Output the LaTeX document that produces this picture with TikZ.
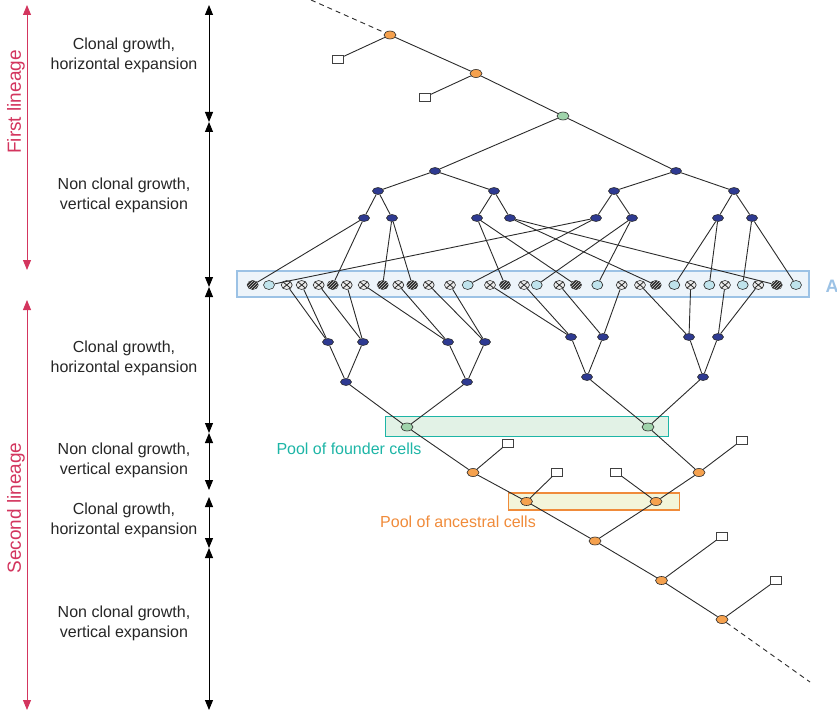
\documentclass[tikz,border=0pt]{standalone}
\usepackage{fontspec}
\setmainfont{Liberation Sans}
\usepackage{tikz}
\usetikzlibrary{positioning}
\usetikzlibrary{arrows.meta}
\usetikzlibrary{shapes.geometric}
\usetikzlibrary{patterns}

\definecolor{lineagered}{HTML}{D3355E}
\definecolor{foundteal}{HTML}{1DB5A6}
\definecolor{ancorange}{HTML}{F08B3A}
\definecolor{ancfill}{HTML}{F3F5DA}
\definecolor{rowblue}{HTML}{9CC2E5}
\definecolor{treeline}{HTML}{2B2B2B}
\definecolor{nodeblue}{HTML}{2E3A92}
\definecolor{nodeorange}{HTML}{F5A14E}
\definecolor{nodegreen}{HTML}{9FD4AB}
\definecolor{cellblue}{HTML}{BFE3EC}

\begin{document}
\begin{tikzpicture}[x=1pt,y=-1pt]

\tikzstyle{phaselabel}=[align=center, text=black!85, font=\fontsize{16}{20}\selectfont]
\tikzstyle{lineagelabel}=[rotate=90, text=lineagered, font=\fontsize{19}{22}\selectfont]
\tikzstyle{phase}=[line width=1pt, {Triangle[length=10pt,width=8pt]}-{Triangle[length=10pt,width=8pt]}]
\tikzstyle{lineage}=[line width=1pt, lineagered, {Triangle[length=10pt,width=8pt]}-{Triangle[length=10pt,width=8pt]}]
\tikzstyle{edge}=[treeline, line width=0.9pt]
\tikzstyle{tip}=[ellipse, draw=treeline, line width=0.6pt, minimum width=11pt, minimum height=7pt, inner sep=0pt]
\tikzstyle{blue}=[tip, fill=nodeblue]
\tikzstyle{orange}=[tip, fill=nodeorange, minimum width=12pt, minimum height=8pt]
\tikzstyle{green}=[tip, fill=nodegreen, minimum width=12pt, minimum height=8pt]
\tikzstyle{leaf}=[rectangle, draw=black!75, line width=0.9pt, fill=white, minimum width=11pt, minimum height=8pt, inner sep=0pt]
\tikzstyle{cellb}=[tip, fill=cellblue, minimum width=11pt, minimum height=9pt]
\tikzstyle{cellh}=[tip, fill=black!85, minimum width=11pt, minimum height=9pt, postaction={pattern=north east lines, pattern color=white!80!black}]
\tikzstyle{cellx}=[tip, fill=black!8, minimum width=11pt, minimum height=9pt,
  path picture={\draw[line width=0.8pt] (path picture bounding box.south west) -- (path picture bounding box.north east)
  (path picture bounding box.north west) -- (path picture bounding box.south east);}]
\tikzstyle{pool}=[rectangle, line width=1.4pt, inner sep=0pt]
\tikzstyle{trail}=[edge, dash pattern=on 5pt off 4pt]

\useasboundingbox (0,0) rectangle (837,714);

% left scale
\draw[lineage] (27,5) -- (27,270);
\draw[lineage] (27,300) -- (27,710);
\node[lineagelabel] (first) at (16,102) {First lineage};
\node[lineagelabel] (second) at (16,508) {Second lineage};

\draw[phase] (209,5) -- (209,122);
\draw[phase] (209,122) -- (209,287);
\draw[phase] (209,287) -- (209,433);
\draw[phase] (209,433) -- (209,490);
\draw[phase] (209,497) -- (209,548);
\draw[phase] (209,548) -- (209,710);

\node[phaselabel] (ph1) at (124,55) {Clonal growth,\\horizontal expansion};
\node[phaselabel] (ph2) at (124,195) {Non clonal growth,\\vertical expansion};
\node[phaselabel] (ph3) at (124,358) {Clonal growth,\\horizontal expansion};
\node[phaselabel] (ph4) at (124,460) {Non clonal growth,\\vertical expansion};
\node[phaselabel] (ph5) at (124,520) {Clonal growth,\\horizontal expansion};
\node[phaselabel] (ph6) at (124,623) {Non clonal growth,\\vertical expansion};

% pools
\node[pool, draw=rowblue, fill=rowblue!18, minimum width=572pt, minimum height=26pt] (row) at (523,284) {};
\node[anchor=west, text=rowblue, font=\fontsize{18}{20}\selectfont\bfseries] (rowlabel) at (822,286) {A};
\node[pool, draw=foundteal, fill=nodegreen!30, minimum width=283pt, minimum height=20pt] (founders) at (526.7,426.7) {};
\node[text=foundteal, font=\fontsize{16}{20}\selectfont] (foundlabel) at (349,449) {Pool of founder cells};
\node[pool, draw=ancorange, fill=ancfill, minimum width=171pt, minimum height=17pt] (ancestors) at (593.7,501.3) {};
\node[text=ancorange, font=\fontsize{16}{20}\selectfont] (anclabel) at (458,522) {Pool of ancestral cells};

% first lineage
\coordinate (topend) at (311,0);
\node[orange] (o1) at (390,35) {};
\node[orange] (o2) at (476,73.5) {};
\node[green] (g0) at (563,116) {};
\node[leaf] (s1) at (338,59) {};
\node[leaf] (s2) at (425,97) {};

\node[blue] (u1) at (435,171) {};
\node[blue] (u2) at (676,171) {};
\node[blue] (v1) at (378,191) {};
\node[blue] (v2) at (494,191) {};
\node[blue] (v3) at (614,191) {};
\node[blue] (v4) at (734,191) {};
\foreach \i/\x in {1/364,2/392,3/477,4/510,5/596,6/632,7/718,8/752}
  \node[blue] (a\i) at (\x,218) {};

\draw[trail] (topend) -- (o1);
\foreach \p/\q in {o1/o2, o2/g0, o1/s1, o2/s2, g0/u1, g0/u2, u1/v1, u1/v2, u2/v3, u2/v4,
  v1/a1, v1/a2, v2/a3, v2/a4, v3/a5, v3/a6, v4/a7, v4/a8}
  \draw[edge] (\p) -- (\q);

% row of cells
\foreach \i/\x/\k in {1/252.7/cellh, 2/269/cellb, 3/286.7/cellx, 4/301.7/cellx, 5/318.7/cellx,
  6/332.7/cellh, 7/346.7/cellx, 8/363.7/cellx, 9/382.7/cellh, 10/398.3/cellx, 11/412.3/cellh,
  12/428.7/cellx, 13/450/cellx, 14/467.7/cellb, 15/490/cellx, 16/505/cellh, 17/524/cellx,
  18/536.7/cellb, 19/559.3/cellx, 20/576/cellh, 21/597.3/cellb, 22/621.7/cellx, 23/640/cellx,
  24/655.7/cellh, 25/674.3/cellb, 26/690.7/cellx, 27/709.3/cellb, 28/725/cellx, 29/742.7/cellb,
  30/758.3/cellx, 31/776.7/cellh, 32/796/cellb}
  \node[\k] (c\i) at (\x,285) {};

\foreach \p/\q in {a1/c1, a1/c6, a2/c9, a2/c11, a3/c16, a3/c20, a4/c24, a4/c31,
  a5/c2, a5/c14, a6/c18, a6/c21, a7/c25, a7/c27, a8/c29, a8/c32}
  \draw[edge] (\p) -- (\q);

% second lineage
\foreach \i/\x/\y in {1/328/342, 2/363/342, 3/448/342, 4/485/342, 5/571/337, 6/603/337, 7/689/337, 8/718/337}
  \node[blue] (b\i) at (\x,\y) {};
\node[blue] (d1) at (346,382) {};
\node[blue] (d2) at (467,382) {};
\node[blue] (d3) at (587,377) {};
\node[blue] (d4) at (703,377) {};
\node[green] (f1) at (407,427) {};
\node[green] (f2) at (648,427) {};

\node[orange] (o3) at (473,472.5) {};
\node[orange] (o4) at (699,472.5) {};
\node[orange] (o5) at (526.5,501.5) {};
\node[orange] (o6) at (656,501.5) {};
\node[orange] (o7) at (595,541) {};
\node[orange] (o8) at (661.5,580.5) {};
\node[orange] (o9) at (722,619.5) {};
\node[leaf] (s3) at (508,443) {};
\node[leaf] (s4) at (742,440) {};
\node[leaf] (s5) at (557,472) {};
\node[leaf] (s6) at (616,472) {};
\node[leaf] (s8) at (722,536) {};
\node[leaf] (s9) at (776,580.5) {};
\coordinate (botend) at (810,682);

\foreach \p/\q in {c3/b1, c4/b1, c5/b2, c7/b2, c8/b3, c10/b3, c12/b4, c13/b4,
  c15/b5, c17/b5, c19/b6, c22/b6, c23/b7, c26/b7, c28/b8, c30/b8,
  b1/d1, b2/d1, b3/d2, b4/d2, b5/d3, b6/d3, b7/d4, b8/d4, d1/f1, d2/f1, d3/f2, d4/f2,
  f1/o3, o3/o5, o5/o7, o7/o8, o8/o9, f2/o4, o4/o6, o6/o7,
  o3/s3, o4/s4, o5/s5, o6/s6, o8/s8, o9/s9}
  \draw[edge] (\p) -- (\q);
\draw[trail] (o9) -- (botend);

\end{tikzpicture}
\end{document}
